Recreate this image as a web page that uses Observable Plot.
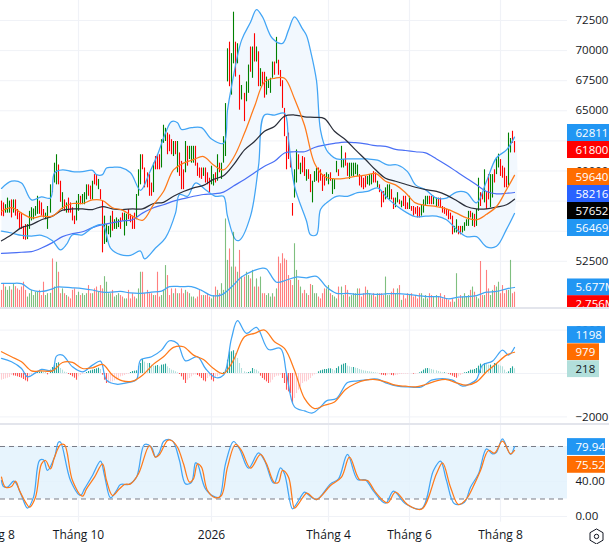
<!DOCTYPE html>
<html><head><meta charset="utf-8">
<script src="https://cdn.jsdelivr.net/npm/d3@7"></script>
<script src="https://cdn.jsdelivr.net/npm/@observablehq/plot@0.6"></script>
<style>
html,body{margin:0;padding:0;background:#fff;overflow:hidden}
#chart{position:relative;width:609px;height:544px;overflow:hidden}
#chart svg{position:absolute;left:0;background:transparent}
.sep{position:absolute;left:0;width:609px;height:2px;background:#e3e5ec}
</style></head><body><div id="chart"></div>
<script>
// Candles, prices in thousands
const highK=[57.5,57.35,57.2,57.75,57.5,57.6,57.6,57.6,56.8,56.5,56.5,55.4,55.55,55.55,56.65,56.95,56.85,57.05,57.9,57.5,57.35,56.8,56.5,57.05,58.85,58.85,60.65,61.35,60.5,59.15,58.2,57.6,57.35,57.75,57.35,56.95,56.25,57.5,58.05,57.9,58.05,58.2,58.85,58.85,58.75,59.15,59.7,59.7,59.3,58.45,57.5,56.25,55.55,55.4,56.25,56.65,55.95,56.1,55.95,56.1,56.5,56.5,56.4,56.8,56.4,56.25,56.5,58.05,60.1,61.35,61.35,60.25,59.85,59.7,59,60.65,61.2,61.35,61.35,62.6,63.8,63.55,63.15,63,62.6,62.45,62.45,62.45,61.5,60.8,60.1,62.45,62.05,62.05,62.05,62.05,62.05,60.65,60.25,60.25,60.25,60.25,59.85,59.4,60.4,59.7,59.85,61.35,60.65,60.65,62.85,65.6,70.15,70.7,69.75,73.19,70.7,70.57,67.95,67.1,66.45,67.4,68.8,70.3,70.3,71.4,70.3,69.9,68.5,68.2,68.2,67.8,67.5,67.7,69.05,69.05,71.1,69.2,68.35,67.5,65.2,62.85,63.15,61.1,57.3,60.1,61.75,61.35,60.65,61.2,61.1,60.1,60.1,59.7,59.15,59.95,60.25,60.25,60.1,59.7,59.7,59.85,59.7,59.85,59.3,59.3,60.8,60.1,62.05,60.95,61.5,60.65,60.65,60.65,60.65,60.65,60.5,59.7,59.55,59.4,59.55,59.55,59.7,59.7,59.95,59.85,59.15,58.85,58.3,58.3,58.6,58.85,58.85,58.45,57.75,57.75,58.2,57.6,57.5,57.9,57.9,57.35,57.9,57.05,57.05,56.95,57.05,56.95,57.2,57.6,57.9,57.9,57.9,57.9,57.9,57.75,57.75,57.75,57.05,56.95,56.8,56.8,56.5,56.25,55.4,55.95,55.4,55.4,55.4,55.7,55.95,56.65,56.65,56.5,56.4,56.8,59.4,58.2,58.2,60.1,58.2,59.7,59.7,59.7,60.1,61.1,61.4,60.95,60.4,60.25,59.55,63.15,62.7,63.3,62.45];
const lowK=[56.25,56.2,56.5,56.5,56.5,56.1,56.5,56.25,55.95,55.15,55.15,54.3,54.25,54.3,55.15,55.85,55.95,56.25,56.4,56.4,56.25,56.1,55.95,55.15,56.5,58.2,59,58.85,58.85,57.4,56.8,56.65,56.5,56.5,56.5,55.85,55.55,55.85,56.65,57.2,57.2,57.2,57.6,57.9,57.6,57.6,58.85,58.75,58.45,57.6,53.2,53.9,54.05,54.7,54.45,55,55.15,55.15,55.3,55.15,55.85,54.6,55.4,55.95,55.7,55.15,55.15,55.95,57.9,58.85,60.1,58.6,58.6,57.9,57.9,58.2,60.1,60.1,60.1,60.25,62.3,62.45,61.35,61.6,61.35,61.2,61.35,59.85,59.55,58.45,58.45,59.85,60.4,60.95,60.65,60.65,60.4,59.55,59.4,59.3,59.55,59,58.85,58.2,58.85,58.75,59,59.15,59.85,59.3,60.65,61.2,67.4,67,66.3,68.9,67.8,68.9,65.05,65.9,64.1,65.75,66.45,68.2,67.7,69.05,69.05,67,67,67.1,66.05,66.3,66.85,66.45,67.7,67.95,68.9,67.95,67,65.2,62.85,60.1,60.95,60.25,56.25,57.75,59,60.1,59.7,59.85,59.55,59.15,59.3,58.2,57.35,59.05,59.15,59,59.15,58.3,58.75,59.15,58.85,59.15,58.05,58.45,59.85,59.55,60.25,60.25,60.4,59.55,59.3,59.55,59.55,59.7,59.55,58.75,58.6,58.45,58.6,58.85,58.75,58.85,59,59,58.6,58.2,56.95,57.35,57.6,57.75,57.6,57.6,56.8,56.95,57.35,57.2,56.95,57.05,56.8,56.8,56.8,56.65,56.25,56.4,56.1,56.1,56.25,56.5,57.05,57.2,57.2,57.2,57.2,57.05,57.05,56.95,56.5,56.4,56.25,55.95,55.95,54.7,54.85,54.85,54.7,54.7,54.85,55,55.4,55.4,56.1,55.4,55.3,55.4,56.65,57.05,57.6,57.35,56.8,57.6,56.95,57.75,59,59.7,60.25,59.55,59.4,58.6,58.6,58.75,61.5,62.3,61.5];
const dirs="RRGGGRGRRR RRRGGGGGGR RRGGGRGGRR GRGRRRRGGR GGGRRGRRGR RGGGGRGGGR RGGRRRRGGG RRRRRGRRRG GGRRRGRGRR RGRGGGRRRR GRRRGGRGRG GGGRGGRGRG RGGRGRGRGR RGGGGRGRRR RRRRRGGRGR RGRRGGGRRR RGGRGGGRGG RRGGGGGRRR RGGGRRGRRR GGGRRGGRGR RRGRRRRRGG GGRRGGRRRR RRRRGGRRGG GGRGRGGRRG RRGGRGGRRR RGGRR".replace(/ /g,"");
const volumeM=[4.9,6.5,5.8,4.9,5.9,5,6.5,5.9,5.3,4.9,5.8,7.1,4.9,3.1,4,4.9,3.5,4.4,4.4,4.9,3.5,7.1,3.5,4,4.1,13.4,5.8,12.5,9.8,4,5.3,4,3.5,3.1,2.6,4.9,5.3,3.5,4.4,3.5,4,3.5,4,6.2,4,4,5.3,5.8,4.4,6.2,5.3,8.6,7.1,4,4,4.9,3.1,3.5,4,3.5,3.1,2.6,2.6,4.9,2.6,4,3.1,2.6,5.3,9.8,9.8,4,4.9,4,4,3.5,3.5,9.8,3.1,3.5,4.9,11.6,8.9,3.5,5.3,4,5.3,4,4,5.3,4,4.9,4.4,4,3.1,3.1,2.6,3.1,4.9,3.5,3.5,3.5,4,3.1,2.6,3.5,5.8,4.9,4,6.7,4.9,24.2,13,16.1,11.2,20.6,11.2,9.8,15.7,8.5,8.5,9.8,8.9,8,10.3,5.8,8,5.8,8.5,4,4,3.5,4,3.1,4,3.1,5.3,13.9,12.1,14.8,13.4,13,8.9,7.6,6.2,17.5,10.3,7.6,5.8,4,4.9,
4,3.5,6.5,6.2,4,4,3.1,2.6,4,5.3,5.3,6.2,4,3.5,3.1,2.6,5.8,5.8,3.5,6.2,4.9,3.1,3.5,4,4,5.3,5.3,3.1,4,5.8,4.9,4,3.5,4,3.1,4,4,4,3.5,8.5,3.5,3.5,4.4,5.3,4,5.3,6.2,2.2,3.5,2.6,4,3.5,4,3.1,3.5,2.6,4,4,2.6,3.5,2.6,4,3.5,3.1,3.5,3.1,4,2.6,3.5,2.6,2.2,1.7,2.6,1.7,9.4,2.6,3.5,3.1,4,3.1,3.5,4.9,5.8,4.4,3.1,2.6,12.7,3.5,3.5,10.3,5.3,3.5,4.9,6.2,5.8,7.1,4,6.2,4,4.9,4.9,13,4,4.4,2.756].slice(0,255);

// Shared reading grid for the moving averages
const lineBars=[0,5,10,15,20,25,30,35,40,45,50,55,60,65,70,75,80,85,90,95,100,105,110,115,120,125,130,135,140,145,150,155,160,165,170,175,180,185,190,195,200,205,210,215,220,225,230,235,240,245,250,254];
const basisK=[56.65,56.95,56.5,56.1,56.25,56.25,56.95,57.3,57.3,57.6,57.55,56.95,56.75,56.25,55.9,57.2,58.3,60.1,60.65,60.95,61.2,60.5,60.1,61.1,63.15,65.35,67.4,67.7,67.7,66,63.8,60.65,59.55,59.35,59.4,59.55,59.65,59.8,59.15,58.85,58.2,57.35,57.15,57.05,56.85,56.5,56.1,55.95,56.4,57.05,58.45,59.64];
const ma50K=[54.2,54.7,55.3,55.55,55.95,56.25,56.75,56.85,56.85,56.8,57.05,56.85,56.8,56.85,56.85,57.3,57.4,57.9,58.3,58.6,58.8,59.3,59.6,60.5,61.75,62.45,63.3,63.7,64.55,64.65,64.5,64.45,64.35,63.3,62.6,61.75,60.95,60.1,59.4,59.15,58.9,58.65,58.45,58.3,58,57.55,57.05,56.85,56.85,57,57.2,57.652];
const ma200K=[53.15,53.2,53.25,53.3,53.6,54.05,54.55,54.8,54.95,55.3,55.55,55.7,55.85,55.95,56.5,56.95,57.2,57.5,57.7,57.9,58.05,58.1,58.25,58.75,59.3,59.85,60.4,60.8,61.5,61.6,61.6,61.95,62.15,62.3,62.4,62.35,62.25,62.1,62.05,61.8,61.7,61.6,61.5,61,60.5,59.95,59.4,58.85,58.3,58.1,58.15,58.216];
const upperBars=[0,5,10,15,20,24,26,30,35,40,45,47,50,52,55,59,64,69,73,77,81,84,87,89,94,99,104,110,112,114,119,123,126,129,134,139,142,145,149,151,153,156,158,161,163,166,171,176,181,186,191,196,201,205,210,215,220,225,230,235,240,245,250,254];
const upperK=[58.55,59.15,59,57.6,57.85,57.75,59.85,60.1,59.95,59.95,60.05,59.7,59.7,60.25,60.3,60.3,59.85,58.4,59.85,61.35,63.15,64.1,64,63.45,63.6,63.6,62.65,62.3,65.05,67,70.85,72.35,73.4,72.8,71,70.6,71.7,72.8,71.8,71.25,70,67.5,63.4,61.75,61.35,61,61,61,61,60.9,60.5,60.5,59.95,58.85,58.45,57.75,57.75,58.25,58.2,57.35,59.15,61.1,61.75,62.811];
const lowerBars=[0,5,10,15,20,25,29,32,35,40,45,50,54,59,64,69,71,76,81,86,88,92,96,101,106,110,112,116,118,123,127,130,135,140,142,145,151,153,156,158,161,166,171,176,181,186,191,196,201,205,210,215,220,225,230,235,240,245,250,254];
const lowerK=[55,54.85,54.65,54.6,54.65,54.2,53.45,53.9,54.7,54.7,55.3,55.55,53.6,53.05,53,53.35,52.7,53.6,54.45,56.5,58.05,57.9,59,58.45,57.9,57.9,56.25,54.3,54.25,56.25,60.4,64.65,64.65,64.8,62.6,58.75,55.85,54.7,54.7,56.8,57.35,57.9,57.9,58.2,58.3,58.6,57.75,57.05,56.5,56.2,56.25,56.25,55.95,55.15,54.55,54.55,53.7,53.75,55.15,56.469];
const volMaBars=[0,5,10,15,20,25,27,35,40,45,50,54,59,64,69,74,79,83,89,94,99,104,109,114,119,124,129,131,136,141,146,151,156,161,166,171,176,181,186,191,196,201,206,211,216,221,226,230,235,240,245,250,254];
const volMaM=[6.8,6.8,6.7,5,4.6,5.3,5.8,5.6,5.4,5,4.4,4.4,4.6,4.2,4.1,4.4,4.7,5.9,5.9,5.9,4.9,3.5,3.7,5.8,8.5,10.1,10.9,10.7,7.1,7.7,8.5,8.3,8.7,5.8,4.1,4.1,3.8,4,3.8,4,4,3.8,3.5,3.2,3.2,2.6,3.1,3.2,3.5,4.4,4.6,5.3,5.677];

// MACD
const macdBars=[0,5,10,13,17,20,25,27,30,35,40,45,49,52,57,62,67,69,74,79,83,87,91,97,101,106,110,114,117,121,126,132,138,141,145,150,154,158,161,166,171,176,181,186,191,196,201,208,213,218,223,228,232,235,238,243,248,251,254];
const macdLine=[693,539,231,-154,31,185,154,801,847,308,77,385,570,-308,-493,-431,-277,616,770,1078,1509,1386,585,770,231,-185,-77,1617,2433,1848,2125,1109,1155,0,-1540,-1725,-1817,-1540,-1263,-1155,-416,-339,-277,-262,-462,-585,-616,-616,-308,-231,-308,-585,-462,-277,385,570,1078,847,1198];
const signalLine=[1001,770,539,123,123,123,508,508,231,262,416,-77,-339,-354,-77,431,770,1201,1232,847,647,231,0,616,1694,1848,2002,1463,1155,154,-1150,-1617,-1463,-1309,-739,-462,-308,-277,-385,-539,-585,-616,-508,-339,-277,-431,-539,-385,77,462,847,979];
const macdHist=[-308,-277,-246,-216,-185,-92,-108,-123,-154,-185,-216,-277,-339,-385,-154,-77,-46,-15,46,62,77,62,46,-62,154,277,385,462,493,231,154,62,31,-46,-92,-154,-216,-308,-154,-92,-46,-31,46,92,123,154,185,216,246,185,-77,-308,-462,-462,-400,-385,-339,-308,-231,-154,-123,-92,-46,-31,46,92,108,123,308,462,647,524,462,462,385,339,339,370,308,385,400,431,308,231,154,123,77,31,-46,-154,-308,-462,-308,-231,-154,-77,-62,-92,-154,-231,-339,-385,-231,-154,-308,-385,-231,-154,-77,-46,46,154,616,1000,1000,1047,924,693,462,231,77,46,46,77,231,185,154,77,-123,-231,-308,-385,-462,-431,-308,-185,-123,-123,-77,-231,-462,-770,-847,-924,-1386,-1155,-924,-770,-616,-462,-385,-385,-308,-231,-123,-62,-15,77,123,154,185,185,216,216,185,123,231,308,385,431,462,339,308,277,277,246,231,185,154,123,108,92,77,62,46,31,15,-15,-77,-92,-108,-77,-62,-92,-108,-92,-77,-46,-46,-31,-31,-31,-15,-15,-31,-31,-15,31,77,154,216,231,216,185,154,123,92,62,31,31,15,-31,-77,-123,-185,-216,-154,-92,-46,31,46,92,154,154,185,231,339,431,385,462,431,385,385,339,462,462,385,339,308,154,46,77,231,308,218];

// Stochastic
const kBars=[0,1,3,6,7,10,13,16,19,21,23,26,28,29,34,39,41,45,49,51,54,57,59,63,67,71,74,76,78,80,83,85,88,91,94,96,97,101,106,108,111,115,118,122,127,130,134,135,138,140,144,146,150,151,156,163,167,171,176,180,184,190,194,200,208,214,217,220,224,229,232,236,240,243,245,248,252,254];
const kLine=[41.1,34.3,33.5,40.4,39.2,24,9.5,22.1,64,64.8,52.6,67.8,85,85,41.1,24,31.6,46.9,63.2,46.9,21.3,29.7,36.6,36.6,45,82.3,79.2,67.8,73.5,85.7,88,85,64,37.3,39.2,61.3,60.2,31.6,22.1,22.1,60.2,85.7,77.3,55.2,72.8,64,39.2,38.1,55.6,48.8,8.8,14.5,27.8,26.7,19.4,37.3,43,70.9,42.3,41.9,29,15.2,29,14.5,8.8,52.6,63.2,41.1,14.5,16.4,33.5,48.8,77.3,71.6,73.5,88.8,70.9,79.94];
const dBars=[0,2,5,7,9,12,14,17,20,22,24,26,29,31,35,40,42,46,50,52,55,58,61,64,68,73,76,78,82,84,87,90,93,95,97,99,102,106,109,112,116,119,123,128,131,135,137,139,142,145,147,151,152,156,163,168,172,177,181,185,191,195,201,208,215,218,222,226,230,234,237,241,244,248,252,254];
const dLine=[45,33.5,34.3,40.4,29.7,16.4,10.7,22.1,60.2,64,54.5,67.8,81.9,81.9,41.1,23.2,31.6,45,60.2,41.1,24,30.5,36.6,37.3,48.8,81.1,67.8,70.9,86.9,86.9,79.2,60.2,39.2,43,60.2,56.4,29.7,21.3,24,56.4,82.3,75.4,55.2,70.9,60.2,38.5,39.2,52.6,45,9.5,14.5,26.7,25.9,19.4,35.4,45,67.8,42.3,41.1,27.8,15.6,27.8,13.7,8.4,48.8,61.3,33.5,13.7,20.2,37.3,52.6,75.4,72.4,86.1,71.6,75.52];

// Axes
const priceTicks=[52500,55000,57500,60000,62500,65000,67500,70000,72500];
const macdTicks=[-2000,2000], macdTickText=["−2000","2000"];
const stochTicks=[0,40], stochTickText=["0.00","40.00"];
const timeBars=[-4.5,38,104,162,202,247];
const timeLabels=["Tháng 8","Tháng 10","2026","Tháng 4","Tháng 6","Tháng 8"];

// Price-scale tags: [text, level on own scale, fill, text colour, width end bar]
const priceTags=[["62811",63156,"#2196f3","#fff"],["61800",61744,"#ff0000","#fff"],["59640",59501,"#ff6d00","#fff"],["58216",58089,"#2962ff","#fff"],["57652",56677,"#000000","#fff"],["56469",55265,"#2196f3","#fff"]];
const volumeTags=[["5.677M",5.677,"#2196f3","#fff"],["2.756M",1.15,"#ff0000","#fff"]];
const macdTags=[["1198",1774,"#2196f3","#fff",299],["979",981,"#ff6d00","#fff",296],["218",198,"#b2dfdb","#131722",296]];
const stochTags=[["79.94",79.4,"#2196f3","#fff",299],["75.52",59,"#ff6d00","#fff",299]];

const GREEN="#008000", RED="#ff0000", BB="#42a5f5", ORANGE="#ff7a1a", INK="#131722", GRID="#f0f2f7";
const FONT='"Open Sans","Noto Sans",sans-serif';
const xDomain=[-0.495,300.85], axisStart=280, labelStart=284;
const CURVE="catmull-rom";
const pairs=(xs,ys,k=1)=>xs.map((x,i)=>({x,y:ys[i]*k}));
const line=(xs,ys,stroke,k=1,w=1.25)=>Plot.line(pairs(xs,ys,k),{x:"x",y:"y",stroke,strokeWidth:w,curve:CURVE});
const hgrid=ticks=>Plot.ruleY(ticks,{x1:xDomain[0],x2:axisStart,stroke:GRID,strokeWidth:1});
const vgrid=(y1,y2)=>Plot.ruleX(timeBars,{y1,y2,stroke:GRID,strokeWidth:1.2});
const tickText=(ys,texts)=>Plot.text(ys.map((y,i)=>({y,t:texts[i]})),{x:()=>labelStart,y:"y",text:"t",textAnchor:"start",fill:INK,fontSize:11.5});
const tagMarks=(tags,half)=>[
  Plot.rect(tags,{x1:()=>axisStart,x2:d=>d[4]||302,y1:d=>d[1]-half,y2:d=>d[1]+half,fill:d=>d[2]}),
  Plot.text(tags,{x:()=>labelStart,y:d=>d[1],text:d=>d[0],textAnchor:"start",fill:d=>d[3],fontSize:11.5})
];
const root=document.getElementById("chart");
function panel(top,height,yDomain,marks){
  const svg=Plot.plot({width:609,height,margin:0,style:{background:"transparent",fontFamily:FONT},
    x:{domain:xDomain,range:[0,609],axis:null,round:true},y:{domain:yDomain,range:[height,0],axis:null},marks});
  svg.style.top=top+"px";
  root.appendChild(svg);
}

const candles=highK.map((h,i)=>({i,h:h*1000,l:lowK[i]*1000,up:dirs[i]==="G",v:volumeM[i],m:macdHist[i],pm:i?macdHist[i-1]:macdHist[0]}));
const histColour=d=>d.m>=0?(d.m>=d.pm?"#26a69a":"#b2dfdb"):(d.m<d.pm?"#ff5252":"#ffcdd2");
const band=[...pairs(upperBars,upperK,1000),...pairs(lowerBars,lowerK,1000).reverse()];

// Price pane
panel(0,308,[48579,74161],[
  hgrid(priceTicks),
  vgrid(48579,74161),
  Plot.line(band,{x:"x",y:"y",fill:"#f2f8fe",stroke:"none",curve:CURVE}),
  Plot.ruleX(candles,{x:"i",y1:"l",y2:"h",stroke:d=>d.up?GREEN:RED,strokeWidth:1.1}),
  line(lineBars,ma200K,"#4a6ff5",1000,1.2),
  line(upperBars,upperK,BB,1000),
  line(lowerBars,lowerK,BB,1000),
  line(lineBars,ma50K,"#2a2e39",1000,1.25),
  line(lineBars,basisK,ORANGE,1000),
  tickText(priceTicks,priceTicks.map(String)),
  ...tagMarks(priceTags,706)
]);
// Volume overlay
panel(0,308,[0,83.24],[
  Plot.ruleX(candles,{x:"i",y1:()=>0,y2:"v",stroke:d=>d.up?GREEN:RED,strokeOpacity:0.5,strokeWidth:1.1}),
  line(volMaBars,volMaM,BB),
  ...tagMarks(volumeTags,2.3)
]);
// MACD pane
panel(309,114,[-2304,2949],[
  hgrid([-2000,0,2000]),
  vgrid(-2304,2949),
  Plot.ruleX(candles,{x:"i",y1:()=>0,y2:"m",stroke:histColour,strokeWidth:1.1}),
  line(macdBars,macdLine,BB),
  line(lineBars,signalLine,ORANGE),
  tickText(macdTicks,macdTickText),
  ...tagMarks(macdTags,387)
]);
// Stochastic pane with the time axis under it
panel(424,120,[-32,105.14],[
  hgrid(stochTicks),
  Plot.ruleX(timeBars,{y1:-6.5,y2:105.14,stroke:GRID,strokeWidth:1.2}),
  Plot.rect([{a:20,b:80}],{x1:()=>xDomain[0],x2:()=>axisStart,y1:"a",y2:"b",fill:"#e3f2fd",fillOpacity:0.85}),
  Plot.ruleY([20,80],{x1:xDomain[0],x2:axisStart,stroke:"#787b86",strokeWidth:1,strokeDasharray:"5,4"}),
  line(kBars,kLine,BB),
  line(dBars,dLine,ORANGE),
  tickText(stochTicks,stochTickText),
  ...tagMarks(stochTags,9.6),
  Plot.text(timeBars.map((x,i)=>({x,t:timeLabels[i]})),{x:"x",y:()=>-21.7,text:"t",fill:INK,fontSize:12,fontWeight:d=>d.t==="2026"?"bold":"normal"}),
  Plot.dot([294.4],{x:d=>d,y:()=>-22.8,symbol:"hexagon",r:6.5,stroke:INK,strokeWidth:1,fill:"none"}),
  Plot.dot([294.4],{x:d=>d,y:()=>-22.8,r:2.2,stroke:INK,strokeWidth:1,fill:"none"})
]);
for(const top of [307,423]){const s=document.createElement("div");s.className="sep";s.style.top=top+"px";root.appendChild(s);}
</script></body></html>
